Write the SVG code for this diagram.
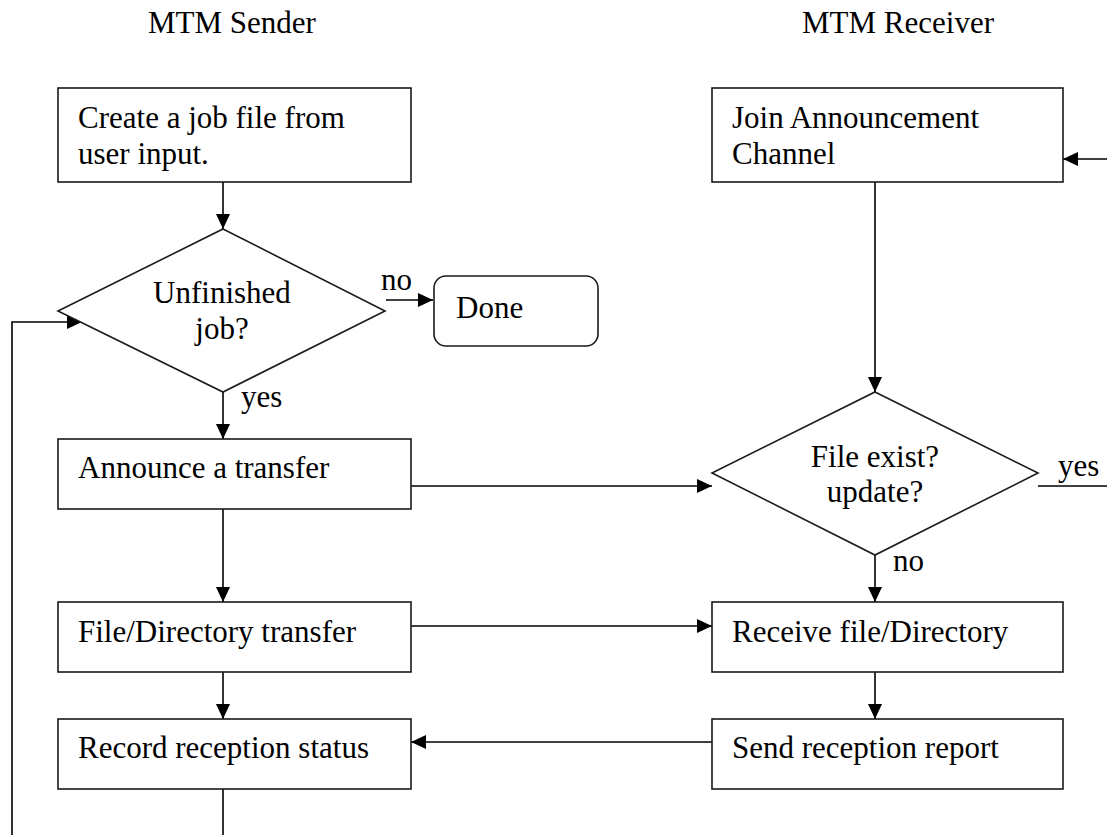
<svg xmlns="http://www.w3.org/2000/svg" width="1107" height="835" viewBox="0 0 1107 835">
<style>
text { font-family: "Liberation Serif", "Times New Roman", serif; font-size: 31px; fill: #000; }
.box { fill: #fff; stroke: #1a1a1a; stroke-width: 1.6; }
.c { fill: none; stroke: #000; stroke-width: 1.6; }
.mid { text-anchor: middle; }
</style>
<defs>
<marker id="ah" markerUnits="userSpaceOnUse" markerWidth="15" markerHeight="14" refX="15" refY="7" orient="auto">
<path d="M0,0 L15,7 L0,14 z" fill="#000"/>
</marker>
</defs>
<rect width="1107" height="835" fill="#fff"/>
<g id="headers">
<text x="148" y="33">MTM Sender</text>
<text x="802" y="33">MTM Receiver</text>
</g>
<g id="connectors">
<path class="c" d="M223,182 V229" marker-end="url(#ah)"/>
<path class="c" d="M386,300 H433" marker-end="url(#ah)"/>
<path class="c" d="M223,392 V439" marker-end="url(#ah)"/>
<path class="c" d="M411,486 H712" marker-end="url(#ah)"/>
<path class="c" d="M223,509 V602" marker-end="url(#ah)"/>
<path class="c" d="M411,626 H712" marker-end="url(#ah)"/>
<path class="c" d="M223,672 V719" marker-end="url(#ah)"/>
<path class="c" d="M712,742 H411" marker-end="url(#ah)"/>
<path class="c" d="M223,789 V860 H12 V322 H82" marker-end="url(#ah)"/>
<path class="c" d="M875,182 V392" marker-end="url(#ah)"/>
<path class="c" d="M875,555 V602" marker-end="url(#ah)"/>
<path class="c" d="M875,672 V719" marker-end="url(#ah)"/>
<path class="c" d="M1038,486 H1125 V159 H1063" marker-end="url(#ah)"/>
<text x="381" y="290">no</text>
<text x="241" y="407">yes</text>
<text x="1058" y="476">yes</text>
<text x="893" y="571">no</text>
</g>
<g id="create-job">
<rect class="box" x="58" y="88" width="353" height="94"/>
<text x="78" y="128">Create a job file from</text>
<text x="78" y="164">user input.</text>
</g>
<g id="unfinished">
<polygon class="box" points="223,229 385,311 223,392 58,311"/>
<text class="mid" x="222" y="303">Unfinished</text>
<text class="mid" x="222" y="339">job?</text>
</g>
<g id="done">
<rect class="box" x="434" y="276" width="164" height="70" rx="12" ry="12"/>
<text x="456" y="318">Done</text>
</g>
<g id="announce">
<rect class="box" x="58" y="439" width="353" height="70"/>
<text x="78" y="478">Announce a transfer</text>
</g>
<g id="file-transfer">
<rect class="box" x="58" y="602" width="353" height="70"/>
<text x="78" y="642">File/Directory transfer</text>
</g>
<g id="record">
<rect class="box" x="58" y="719" width="353" height="70"/>
<text x="78" y="758">Record reception status</text>
</g>
<g id="join">
<rect class="box" x="712" y="88" width="351" height="94"/>
<text x="732" y="128">Join Announcement</text>
<text x="732" y="164">Channel</text>
</g>
<g id="file-exist">
<polygon class="box" points="875,392 1038,473 875,555 712,473"/>
<text class="mid" x="875" y="467">File exist?</text>
<text class="mid" x="875" y="502">update?</text>
</g>
<g id="receive">
<rect class="box" x="712" y="602" width="351" height="70"/>
<text x="732" y="642">Receive file/Directory</text>
</g>
<g id="send-report">
<rect class="box" x="712" y="719" width="351" height="70"/>
<text x="732" y="758">Send reception report</text>
</g>
</svg>
